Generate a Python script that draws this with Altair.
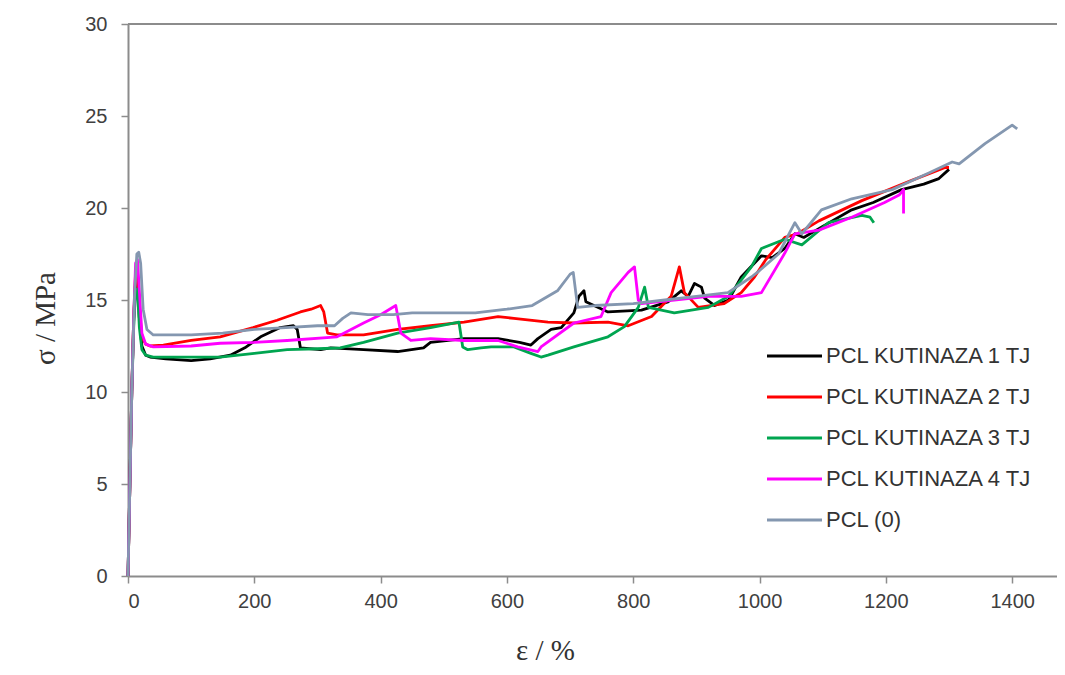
import altair as alt
import pandas as pd

series_names = ["PCL KUTINAZA 1 TJ", "PCL KUTINAZA 2 TJ", "PCL KUTINAZA 3 TJ",
                "PCL KUTINAZA 4 TJ", "PCL (0)"]
series_colors = ["#000000", "#ff0000", "#00a550", "#ff00ff", "#8497b0"]

x_tj1 = [0, 3, 6, 9, 12, 15, 18, 22, 28, 35, 60, 100, 130, 162, 185, 210, 241, 262, 268, 273, 305,
         321, 373, 427, 468, 479, 532, 586, 620, 638, 649, 670, 686, 706, 714, 722, 725, 760, 813,
         855, 876, 887, 897, 908, 913, 929, 951, 971, 1003, 1020, 1040, 1056, 1070, 1100, 1146,
         1180, 1225, 1260, 1284, 1300]
y_tj1 = [0, 5, 10, 14, 16, 15.8, 14, 12.5, 12.0, 11.9, 11.8, 11.7, 11.8, 12.0, 12.4, 13.0, 13.5,
         13.6, 13.4, 12.4, 12.3, 12.4, 12.3, 12.2, 12.4, 12.7, 12.9, 12.9, 12.7, 12.55, 12.9, 13.4,
         13.5, 14.3, 15.2, 15.5, 14.9, 14.35, 14.45, 14.9, 15.5, 15.2, 15.9, 15.7, 15.1, 14.7, 15.0,
         16.25, 17.4, 17.3, 17.8, 18.6, 18.4, 19.0, 19.9, 20.3, 21.0, 21.3, 21.6, 22.1]

x_tj2 = [0, 3, 6, 9, 12, 15, 18, 22, 28, 35, 56, 100, 146, 198, 236, 273, 290, 305, 310, 316, 331,
         373, 427, 479, 532, 586, 611, 665, 706, 760, 792, 829, 860, 873, 881, 903, 944, 971, 992,
         1010, 1040, 1060, 1094, 1162, 1241, 1294, 1300]
y_tj2 = [0, 5, 10, 14, 16.5, 16.6, 14.5, 13, 12.6, 12.5, 12.55, 12.8, 13.0, 13.5, 13.9, 14.35, 14.5,
         14.7, 14.35, 13.2, 13.1, 13.1, 13.4, 13.6, 13.8, 14.1, 14.0, 13.8, 13.75, 13.8, 13.6, 14.1,
         15.2, 16.8, 15.4, 14.6, 14.8, 15.4, 16.25, 17.2, 18.4, 18.6, 19.3, 20.4, 21.5, 22.2, 22.2]

x_tj3 = [0, 3, 6, 9, 12, 15, 18, 22, 28, 40, 100, 146, 200, 252, 300, 336, 373, 427, 479, 524, 530,
         538, 559, 575, 611, 638, 654, 665, 706, 760, 786, 808, 818, 824, 865, 919, 951, 987, 1003,
         1040, 1067, 1109, 1162, 1175, 1181]
y_tj3 = [0, 5, 10, 13.5, 15.5, 15.6, 13.5, 12.3, 12.0, 11.9, 11.9, 11.9, 12.1, 12.3, 12.35, 12.4,
         12.7, 13.2, 13.5, 13.8, 12.45, 12.3, 12.4, 12.45, 12.45, 12.1, 11.9, 12.0, 12.45, 13.0,
         13.55, 14.6, 15.7, 14.6, 14.3, 14.6, 15.2, 16.8, 17.8, 18.3, 18.0, 19.2, 19.6, 19.5, 19.2]

x_tj4 = [0, 1, 3, 6, 9, 12, 15, 18, 22, 28, 40, 100, 146, 200, 252, 331, 373, 400, 424, 432, 448,
         479, 532, 586, 617, 649, 654, 706, 749, 765, 792, 802, 808, 813, 865, 919, 971, 1003, 1040,
         1056, 1094, 1146, 1198, 1221, 1228, 1228]
y_tj4 = [0, 1.7, 5, 10, 14, 17.0, 17.2, 15.5, 13.2, 12.6, 12.45, 12.5, 12.65, 12.7, 12.8, 13.0,
         13.75, 14.2, 14.7, 13.2, 12.8, 12.9, 12.8, 12.8, 12.45, 12.2, 12.45, 13.75, 14.1, 15.4,
         16.5, 16.8, 15.0, 14.8, 15.0, 15.2, 15.2, 15.4, 17.55, 18.6, 18.8, 19.5, 20.3, 20.7, 21.0,
         19.7]

x_pcl = [0, 3, 6, 10, 14, 17, 20, 24, 30, 40, 100, 150, 200, 250, 300, 327, 340, 353, 380, 420, 450,
         497, 550, 600, 640, 680, 700, 705, 712, 740, 800, 850, 900, 950, 987, 1000, 1030, 1056,
         1067, 1098, 1146, 1210, 1268, 1305, 1316, 1357, 1400, 1408]
y_pcl = [0, 5, 10, 15, 17.5, 17.6, 17, 14.5, 13.4, 13.1, 13.1, 13.2, 13.4, 13.5, 13.6, 13.6, 14.0,
         14.3, 14.2, 14.2, 14.3, 14.3, 14.3, 14.5, 14.7, 15.5, 16.4, 16.5, 14.6, 14.7, 14.8, 15.0,
         15.2, 15.4, 16.25, 16.6, 17.5, 19.2, 18.6, 19.9, 20.5, 21.0, 21.9, 22.5, 22.4, 23.5, 24.5,
         24.3]

x_ticks = [0, 200, 400, 600, 800, 1000, 1200, 1400]
y_ticks = [0, 5, 10, 15, 20, 25, 30]

rows = []
for name, xs, ys in zip(series_names,
                        [x_tj1, x_tj2, x_tj3, x_tj4, x_pcl],
                        [y_tj1, y_tj2, y_tj3, y_tj4, y_pcl]):
    for i, (xv, yv) in enumerate(zip(xs, ys)):
        rows.append({"series": name, "order": i, "strain": xv, "stress": yv})
df = pd.DataFrame(rows)

axis_common = dict(
    domainColor="#8c8c8c", domainWidth=2, tickColor="#8c8c8c", tickWidth=1.5, tickSize=7,
    labelFont="Liberation Sans", labelFontSize=20, labelColor="#404040", grid=False,
    titleFont="Liberation Serif", titleFontSize=29, titleFontWeight="normal", titleColor="#333333",
    format="d",
)

x_enc = alt.X("strain:Q", scale=alt.Scale(domain=[0, 1471], nice=False),
              axis=alt.Axis(values=x_ticks, title="ε / %", labelPadding=8,
                            titleX=417, titleY=74, titleAlign="center", titleBaseline="middle",
                            **axis_common))
y_enc = alt.Y("stress:Q", scale=alt.Scale(domain=[0, 30], nice=False),
              axis=alt.Axis(values=y_ticks, title="σ / MPa", labelPadding=14,
                            titleX=-83, titleY=294, titleAlign="center", titleBaseline="middle",
                            titleAngle=270, **axis_common))

lines = alt.Chart(df).mark_line(strokeWidth=2.8, strokeJoin="round").encode(
    x=x_enc,
    y=y_enc,
    color=alt.Color("series:N",
                    scale=alt.Scale(domain=series_names, range=series_colors),
                    sort=series_names,
                    legend=alt.Legend(
                        title=None, orient="none", legendX=655.5, legendY=321,
                        symbolType="M-3,0H3", symbolSize=336, symbolStrokeWidth=3,
                        labelFont="Liberation Sans", labelFontSize=22, labelColor="#333333",
                        labelOffset=20.5, rowPadding=19, padding=0, labelLimit=400)),
    order="order:Q",
)

top_frame = alt.Chart(pd.DataFrame({"top": [30]})).mark_rule(color="#8c8c8c", strokeWidth=2).encode(
    y=alt.Y("top:Q", scale=alt.Scale(domain=[0, 30], nice=False))
)

chart = alt.layer(top_frame, lines).properties(
    width=929, height=552,
    autosize=alt.AutoSizeParams(type="none"),
    padding={"left": 120, "top": 16, "right": 0, "bottom": 91},
).configure_view(stroke=None).configure(background="white")

chart.save("out.html", embed_options={"renderer": "svg", "actions": False})
